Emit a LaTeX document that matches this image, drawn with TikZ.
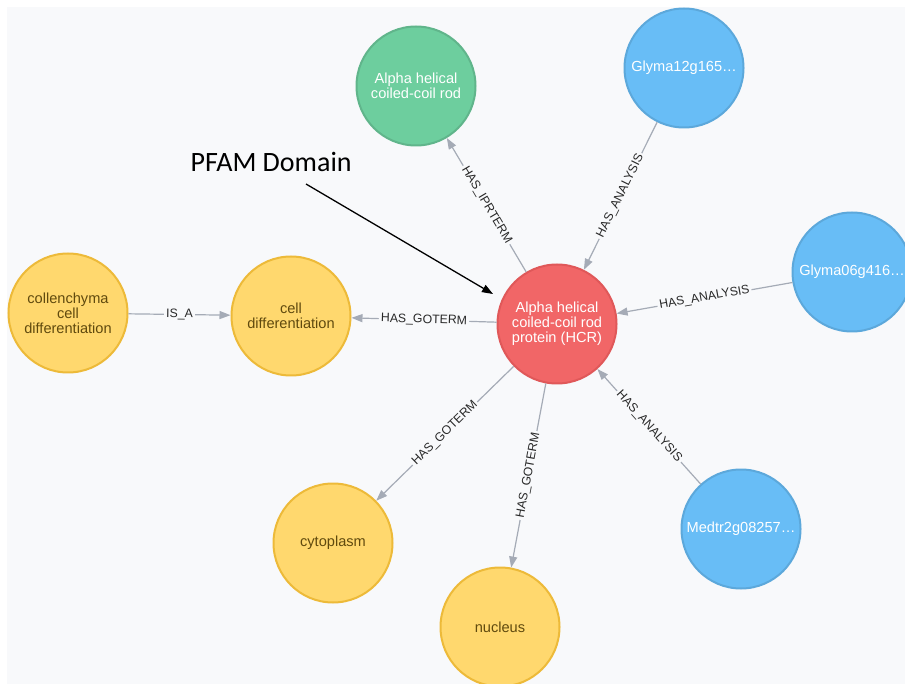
\documentclass[tikz,border=0pt]{standalone}
\usepackage{fontspec}
\setmainfont{Liberation Sans}
\newfontfamily\calloutfont{Carlito}
\usetikzlibrary{arrows.meta,positioning}

\definecolor{canvas}{RGB}{248,249,251}
\definecolor{edgegray}{RGB}{165,171,182}
\definecolor{protfill}{RGB}{241,102,103}
\definecolor{protline}{RGB}{224,88,89}
\definecolor{iprfill}{RGB}{109,206,158}
\definecolor{iprline}{RGB}{96,181,139}
\definecolor{anafill}{RGB}{104,189,246}
\definecolor{analine}{RGB}{92,168,219}
\definecolor{gofill}{RGB}{255,216,110}
\definecolor{goline}{RGB}{237,186,57}
\definecolor{gotext}{RGB}{96,74,14}
\definecolor{labeltext}{RGB}{40,40,40}

\begin{document}
\begin{tikzpicture}[
        x=1pt, y=-1pt,
        every node/.style={align=center},
        entity/.style={circle, draw, line width=2pt, minimum size=119pt, inner sep=0pt, font=\fontsize{14.6}{14.8}\selectfont},
        protein/.style={entity, fill=protfill, draw=protline, text=white},
        iprterm/.style={entity, fill=iprfill, draw=iprline, text=white},
        analysis/.style={entity, fill=anafill, draw=analine, text=white},
        goterm/.style={entity, fill=gofill, draw=goline, text=gotext},
        rel/.style={draw=edgegray, line width=1.2pt, -{Triangle[length=11pt,width=8pt]}},
        rellabel/.style={sloped, midway, fill=canvas, text=labeltext, inner xsep=2pt, inner ysep=0.5pt, font=\fontsize{12.3}{12.3}\selectfont}
    ]

    % Canvas
    \useasboundingbox (0,0) rectangle (905,684);
    \clip (0,0) rectangle (905,684);
    \fill[white] (0,0) rectangle (905,684);
    \fill[canvas] (7,7) rectangle (905,684);

    % Nodes
    \node (hcr)[protein] at (557,324) {Alpha helical\\coiled-coil rod\\protein (HCR)};
    \node (ipr)[iprterm] at (416,86) {Alpha helical\\coiled-coil rod};
    \node (glyma12)[analysis] at (684,68) {Glyma12g165…};
    \node (glyma06)[analysis] at (852,272) {Glyma06g416…};
    \node (medtr)[analysis] at (741,529) {Medtr2g08257…};
    \node (celldiff)[goterm] at (291,316) {cell\\differentiation};
    \node (collen)[goterm] at (68,313) {collenchyma\\cell\\differentiation};
    \node (cyto)[goterm] at (333,543) {cytoplasm};
    \node (nucleus)[goterm] at (500,627) {nucleus};

    % Callout
    \node (pfam)[anchor=base west, font=\calloutfont\fontsize{28}{28}\selectfont] at (187,172) {PFAM Domain};
    \coordinate (pfamtail) at (306,184);
    \coordinate (pfamhead) at (493,294);

    % Edges
    \draw[rel] (hcr) -- node[rellabel] {HAS\_IPRTERM} (ipr);
    \draw[rel] (glyma12) -- node[rellabel] {HAS\_ANALYSIS} (hcr);
    \draw[rel] (glyma06) -- node[rellabel] {HAS\_ANALYSIS} (hcr);
    \draw[rel] (medtr) -- node[rellabel] {HAS\_ANALYSIS} (hcr);
    \draw[rel] (hcr) -- node[rellabel] {HAS\_GOTERM} (celldiff);
    \draw[rel] (collen) -- node[rellabel] {IS\_A} (celldiff);
    \draw[rel] (hcr) -- node[rellabel] {HAS\_GOTERM} (cyto);
    \draw[rel] (hcr) -- node[rellabel] {HAS\_GOTERM} (nucleus);
    \draw[-{Triangle[length=11pt,width=8pt]}, line width=1.3pt] (pfamtail) -- (pfamhead);

\end{tikzpicture}
\end{document}
